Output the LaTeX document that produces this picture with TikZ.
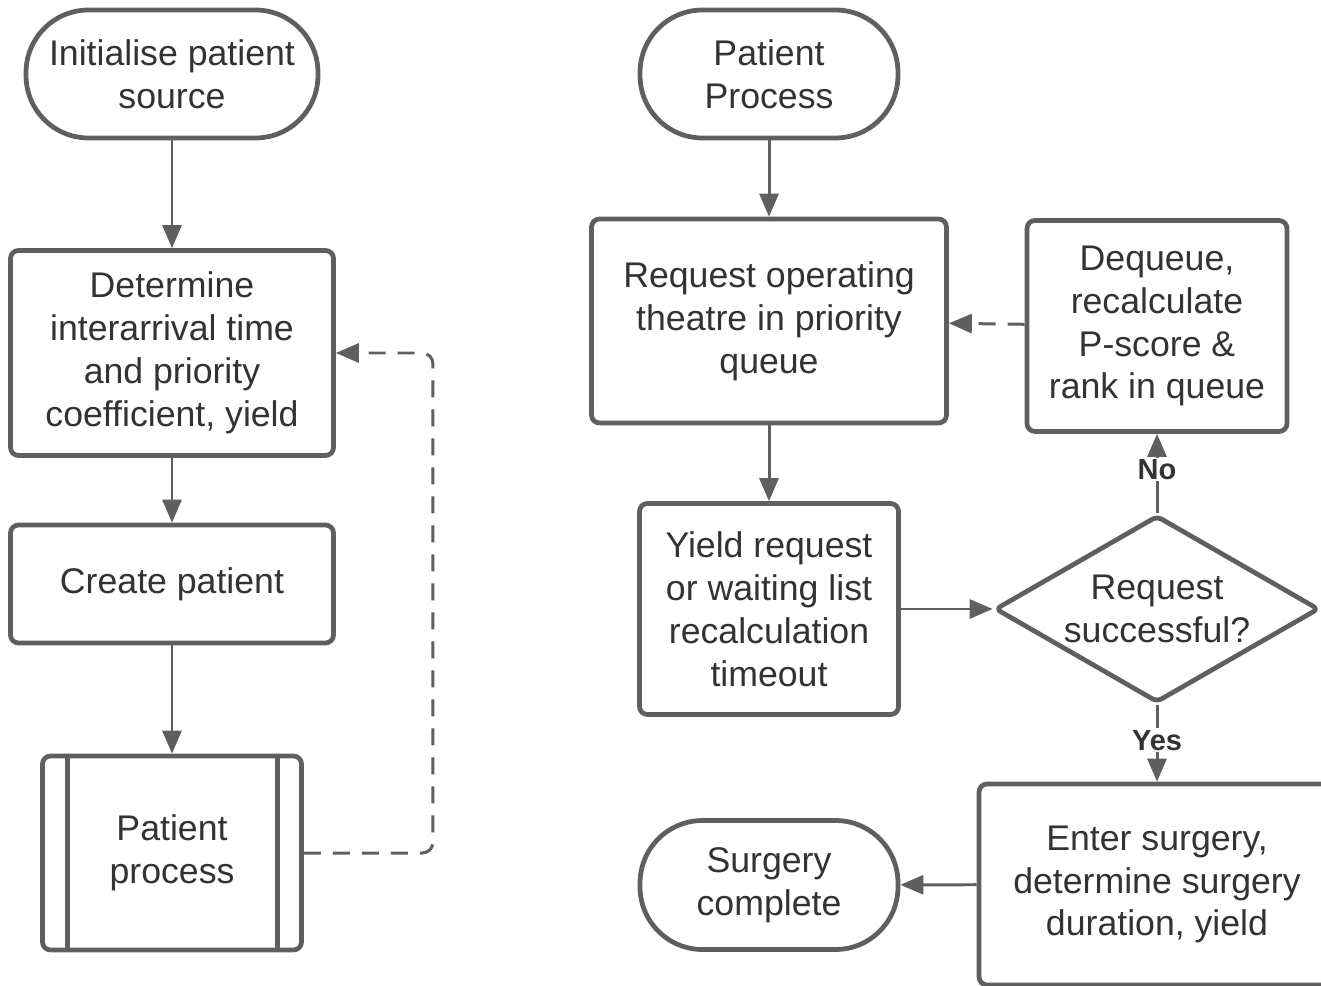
\documentclass[tikz,border=0pt]{standalone}
\usepackage{fontspec}
\setmainfont{Liberation Sans}
\usetikzlibrary{arrows.meta}
\usetikzlibrary{shapes.geometric}
\usetikzlibrary{positioning}
\definecolor{linegray}{RGB}{95,95,95}
\definecolor{textgray}{RGB}{51,51,51}

\begin{document}
\begin{tikzpicture}[x=0.02cm,y=-0.02cm,
  font=\fontsize{20.3}{24.4}\selectfont, text=textgray,
  base/.style={draw=linegray,line width=2.7pt,fill=white,align=center,inner sep=0pt},
  term/.style={base,rounded corners=1.25cm},
  box/.style={base,rounded corners=4.5pt},
  decision/.style={base,diamond,aspect=1.73,inner sep=-3pt,rounded corners=3pt},
  flow/.style={draw=linegray,line width=1.7pt,-{Triangle[length=0.46cm,width=0.38cm]}},
  back/.style={flow,dash pattern=on 0.34cm off 0.24cm,rounded corners=6pt},
  lbl/.style={fill=white,text=textgray,font=\fontsize{16.5}{18}\selectfont\bfseries,inner sep=1pt}]
\fill[white] (0,0) rectangle (1321,986);
\useasboundingbox (0,0) rectangle (1321,986);

% patient source
\node[term,minimum width=5.84cm,minimum height=2.56cm] (init) at (172,74) {Initialise patient\\source};
\node[box,minimum width=6.46cm,minimum height=4.1cm] (det) at (172,353) {Determine\\interarrival time\\and priority\\coefficient, yield};
\node[box,minimum width=6.46cm,minimum height=2.36cm] (crt) at (172,584) {Create patient};
\node[box,minimum width=5.18cm,minimum height=3.88cm] (sub) at (172,853) {Patient\\process};
\draw[linegray,line width=2.7pt] ([xshift=0.54cm]sub.north west) -- ([xshift=0.54cm]sub.south west);
\draw[linegray,line width=2.7pt] ([xshift=-0.52cm]sub.north east) -- ([xshift=-0.52cm]sub.south east);

\draw[flow] (init) -- (det);
\draw[flow] (det) -- (crt);
\draw[flow] (crt) -- (sub);
\draw[back] (sub.east) -- ++(129,0) |- (det.east);

% patient process
\node[term,minimum width=5.16cm,minimum height=2.56cm] (pp) at (769,74) {Patient\\Process};
\node[box,minimum width=7.1cm,minimum height=4.08cm] (req) at (769,321) {Request operating\\theatre in priority\\queue};
\node[box,minimum width=5.18cm,minimum height=4.22cm] (yld) at (769,609) {Yield request\\or waiting list\\recalculation\\timeout};
\node[decision,minimum width=6.48cm,minimum height=3.74cm] (dec) at (1157,609) {Request\\successful?};
\node[box,minimum width=5.2cm,minimum height=4.22cm] (dq) at (1157,326) {Dequeue,\\recalculate\\P-score \&\\rank in queue};
\node[box,minimum width=7.12cm,minimum height=4.02cm] (ent) at (1157,884.5) {Enter surgery,\\determine surgery\\duration, yield};
\node[term,minimum width=5.16cm,minimum height=2.58cm] (done) at (769,885) {Surgery\\complete};

\draw[flow] (pp) -- (req);
\draw[flow] (req) -- (yld);
\draw[flow] (yld) -- (dec);
\draw[flow] (dec) -- node[lbl,pos=0.55] (no) {No} (dq);
\draw[flow] (dec) -- node[lbl,pos=0.46] (yes) {Yes} (ent);
\draw[flow] (ent) -- (done);
\draw[back] (dq) -- (req);
\end{tikzpicture}
\end{document}
